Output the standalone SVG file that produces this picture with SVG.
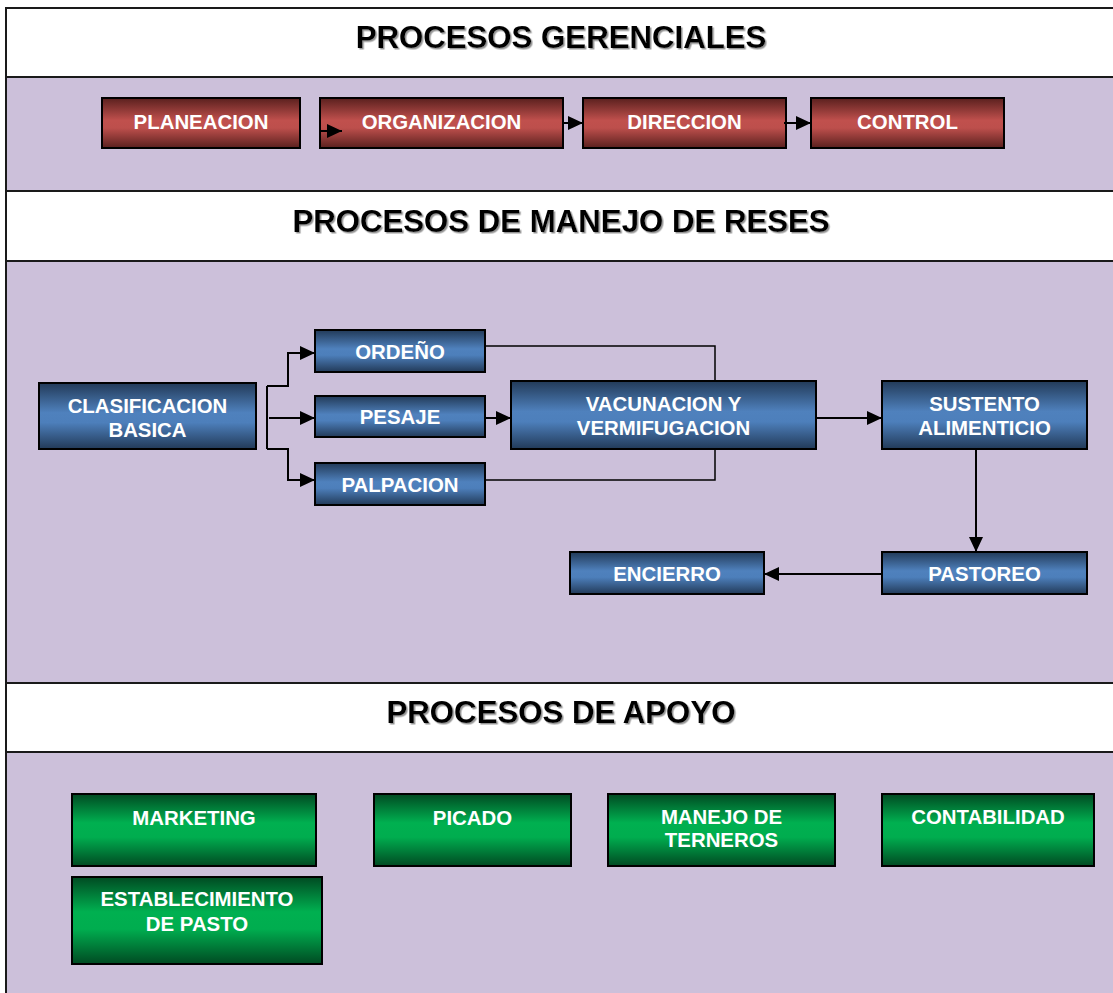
<svg xmlns="http://www.w3.org/2000/svg" width="1113" height="993" viewBox="0 0 1113 993">
<style>
.band{fill:#CCC0DA}
.head{fill:#FFFFFF}
.rule{stroke:#1a1a1a;stroke-width:2;fill:none}
.title{font-family:"Liberation Sans",Arial,sans-serif;font-weight:bold;font-size:31.2px;fill:#000;text-anchor:middle;filter:url(#ts)}
.lbl{font-family:"Liberation Sans",Arial,sans-serif;font-weight:bold;font-size:20.4px;fill:#FFFFFF;text-anchor:middle}
.box{stroke:#000;stroke-width:2}
.red{fill:url(#gRed)}
.blue{fill:url(#gBlue)}
.green{fill:url(#gGreen)}
.conn{stroke:#000;stroke-width:2;fill:none}
.arr{marker-end:url(#ah)}
</style>
<defs>
<linearGradient id="gRed" x1="0" y1="0" x2="0" y2="1">
<stop offset="0" stop-color="#5A201E"/>
<stop offset="0.45" stop-color="#C0504D"/>
<stop offset="0.6" stop-color="#BD4F4C"/>
<stop offset="1" stop-color="#5A201E"/>
</linearGradient>
<linearGradient id="gBlue" x1="0" y1="0" x2="0" y2="1">
<stop offset="0" stop-color="#223A58"/>
<stop offset="0.45" stop-color="#4F81BD"/>
<stop offset="0.6" stop-color="#4D7FBB"/>
<stop offset="1" stop-color="#223A58"/>
</linearGradient>
<linearGradient id="gGreen" x1="0" y1="0" x2="0" y2="1">
<stop offset="0" stop-color="#004A22"/>
<stop offset="0.4" stop-color="#00B050"/>
<stop offset="0.6" stop-color="#00AD4F"/>
<stop offset="1" stop-color="#004A22"/>
</linearGradient>
<filter id="ts" x="-5%" y="-20%" width="110%" height="140%">
<feDropShadow dx="1.5" dy="1.5" stdDeviation="0.6" flood-color="#888888" flood-opacity="0.9"/>
</filter>
<marker id="ah" markerUnits="userSpaceOnUse" markerWidth="15" markerHeight="14" refX="15" refY="7" orient="auto">
<path d="M0,0 L15,7 L0,14 Z" fill="#000"/>
</marker>
</defs>

<g id="frame">
<rect x="6" y="8" width="1110" height="990" class="band"/>
<rect x="6" y="8" width="1110" height="69" class="head"/>
<rect x="6" y="191" width="1110" height="70" class="head"/>
<rect x="6" y="683" width="1110" height="69" class="head"/>
<line x1="6" y1="8" x2="1113" y2="8" class="rule"/>
<line x1="6" y1="7" x2="6" y2="993" class="rule"/>
<line x1="6" y1="77" x2="1113" y2="77" class="rule"/>
<line x1="6" y1="191" x2="1113" y2="191" class="rule"/>
<line x1="6" y1="261" x2="1113" y2="261" class="rule"/>
<line x1="6" y1="683" x2="1113" y2="683" class="rule"/>
<line x1="6" y1="752" x2="1113" y2="752" class="rule"/>
</g>

<g id="titles">
<text x="561" y="48" class="title">PROCESOS GERENCIALES</text>
<text x="561" y="232" class="title">PROCESOS DE MANEJO DE RESES</text>
<text x="561" y="723" class="title">PROCESOS DE APOYO</text>
</g>

<g id="planeacion"><rect x="102" y="98" width="198" height="50" class="box red"/><text x="201" y="129" class="lbl">PLANEACION</text></g>
<g id="organizacion"><rect x="320" y="98" width="243" height="50" class="box red"/><text x="441.5" y="129" class="lbl">ORGANIZACION</text></g>
<g id="direccion"><rect x="583" y="98" width="203" height="50" class="box red"/><text x="684.5" y="129" class="lbl">DIRECCION</text></g>
<g id="control"><rect x="811" y="98" width="193" height="50" class="box red"/><text x="907.5" y="129" class="lbl">CONTROL</text></g>

<g id="clasificacion"><rect x="39" y="383" width="217" height="66" class="box blue"/><text x="147.5" y="413" class="lbl">CLASIFICACION</text><text x="147.5" y="437" class="lbl">BASICA</text></g>
<g id="ordeno"><rect x="315" y="330" width="170" height="42" class="box blue"/><text x="400" y="359" class="lbl">ORDEÑO</text></g>
<g id="pesaje"><rect x="315" y="396" width="170" height="41" class="box blue"/><text x="400" y="424" class="lbl">PESAJE</text></g>
<g id="palpacion"><rect x="315" y="463" width="170" height="42" class="box blue"/><text x="400" y="492" class="lbl">PALPACION</text></g>
<g id="vacunacion"><rect x="511" y="381" width="305" height="68" class="box blue"/><text x="663.5" y="411" class="lbl">VACUNACION Y</text><text x="663.5" y="435" class="lbl">VERMIFUGACION</text></g>
<g id="sustento"><rect x="882" y="381" width="205" height="68" class="box blue"/><text x="984.5" y="411" class="lbl">SUSTENTO</text><text x="984.5" y="435" class="lbl">ALIMENTICIO</text></g>
<g id="pastoreo"><rect x="882" y="552" width="205" height="42" class="box blue"/><text x="984.5" y="581" class="lbl">PASTOREO</text></g>
<g id="encierro"><rect x="570" y="552" width="194" height="42" class="box blue"/><text x="667" y="581" class="lbl">ENCIERRO</text></g>

<g id="marketing"><rect x="72" y="794" width="244" height="72" class="box green"/><text x="194" y="825" class="lbl">MARKETING</text></g>
<g id="picado"><rect x="374" y="794" width="197" height="72" class="box green"/><text x="472.5" y="825" class="lbl">PICADO</text></g>
<g id="manejo-terneros"><rect x="608" y="794" width="227" height="72" class="box green"/><text x="721.5" y="824" class="lbl">MANEJO DE</text><text x="721.5" y="847" class="lbl">TERNEROS</text></g>
<g id="contabilidad"><rect x="882" y="794" width="212" height="72" class="box green"/><text x="988" y="824" class="lbl">CONTABILIDAD</text></g>
<g id="establecimiento"><rect x="72" y="877" width="250" height="87" class="box green"/><text x="197" y="906" class="lbl">ESTABLECIMIENTO</text><text x="197" y="931" class="lbl">DE PASTO</text></g>

<g id="connectors">
<line x1="321" y1="131" x2="342" y2="131" class="conn arr"/>
<line x1="563" y1="123" x2="583" y2="123" class="conn arr"/>
<line x1="784" y1="123" x2="811" y2="123" class="conn arr"/>
<polyline points="267,386 267,449" class="conn"/>
<polyline points="267,386 288,386 288,353 315,353" class="conn arr"/>
<line x1="269" y1="418" x2="315" y2="418" class="conn arr"/>
<polyline points="267,449 288,449 288,480 315,480" class="conn arr"/>
<line x1="485" y1="418" x2="511" y2="418" class="conn arr"/>
<polyline points="485,346 715,346 715,381" class="conn" style="stroke-width:1.5"/>
<polyline points="485,480 715,480 715,449" class="conn" style="stroke-width:1.5"/>
<line x1="816" y1="418" x2="882" y2="418" class="conn arr"/>
<line x1="976" y1="449" x2="976" y2="552" class="conn arr"/>
<line x1="882" y1="574" x2="764" y2="574" class="conn arr"/>
</g>
</svg>
